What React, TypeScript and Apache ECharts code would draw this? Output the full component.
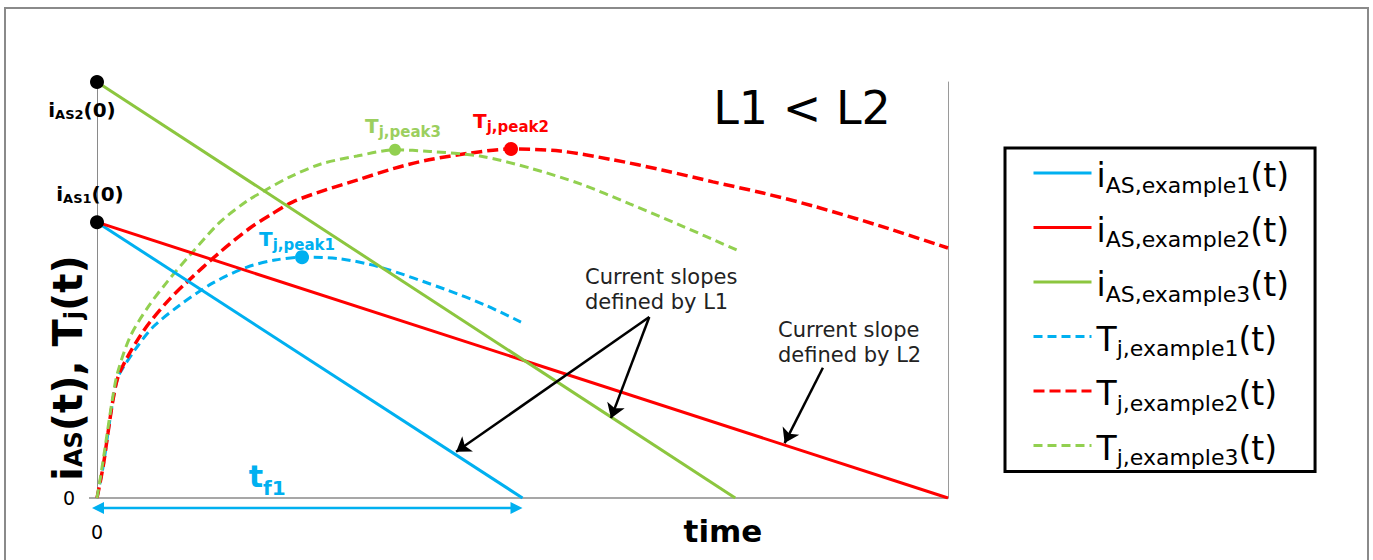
import React, { useEffect, useRef } from 'react';
import * as echarts from 'echarts';

const FONT = 'DejaVu Sans';
const BLUE = '#00b0f0';
const RED = '#ff0000';
const GREEN = '#8cc63f';
const GREEN_DASH = '#92d050';
const GREEN_TEXT = '#9ccf5f';

// axis ranges (arbitrary units)
const X_MAX = 100;
const Y_MAX = 100;
const AXIS_TICKS = [0];

// initial currents and fall times
const IAS1_0 = 66.3;
const IAS2_0 = 100;
const TF1 = 50;
const TF2 = 100;
const TF3 = 75;

const IAS_EX1: [number, number][] = [[0, IAS1_0], [TF1, 0]];
const IAS_EX2: [number, number][] = [[0, IAS1_0], [TF2, 0]];
const IAS_EX3: [number, number][] = [[0, IAS2_0], [TF3, 0]];

const TJ_EX1: [number, number][] = [
  [0, 0], [0.71, 7.45], [1.29, 15.6], [1.88, 23.6], [2.47, 29.1], [3.06, 31.3],
  [4.7, 36.3], [6.58, 41.1], [9.75, 46.4], [13.63, 51.7], [17.63, 55.5],
  [20.92, 57.2], [24.09, 57.9], [28.55, 57.5], [33.25, 55.5], [41.13, 50.0],
  [45.59, 46.4], [49.82, 42.3],
];
const TJ_EX2: [number, number][] = [
  [0, 0], [0.71, 7.45], [1.29, 15.6], [1.88, 23.6], [2.47, 29.1], [3.53, 33.7],
  [5.05, 38.9], [6.23, 42.3], [8.34, 47.4], [10.46, 51.7], [14.45, 59.1],
  [17.98, 64.9], [20.33, 68.0], [23.03, 71.2], [26.79, 74.0], [30.55, 76.4],
  [35.02, 79.3], [39.01, 81.3], [43.83, 82.9], [48.65, 83.9], [54.41, 83.4],
  [60.63, 81.3], [66.51, 78.8], [72.39, 76.0], [78.26, 73.3], [84.14, 70.2],
  [92.01, 65.4], [100, 60.1],
];
const TJ_EX3: [number, number][] = [
  [0, 0], [0.6, 7.45], [1.2, 15.6], [1.8, 23.6], [2.4, 30.0], [3.88, 38.7],
  [5.99, 45.9], [8.34, 52.2], [10.93, 58.4], [14.45, 66.3], [17.63, 71.4],
  [19.62, 73.8], [22.68, 77.2], [26.32, 80.3], [30.55, 82.2], [35.02, 83.7],
  [39.13, 83.3], [45.0, 82.2], [50.9, 79.3], [56.8, 75.5], [62.6, 70.7],
  [68.5, 65.6], [75.2, 59.6],
];

const PEAK1: [number, number] = [24.09, 57.9];
const PEAK2: [number, number] = [48.65, 83.9];
const PEAK3: [number, number] = [35.02, 83.7];

const LEGEND_NAMES = [
  'iAS,example1(t)', 'iAS,example2(t)', 'iAS,example3(t)',
  'Tj,example1(t)', 'Tj,example2(t)', 'Tj,example3(t)',
];

// annotation arrows (start -> end, in data units)
const ARROWS: [number, number][][] = [
  [[64.9, 43.5], [42.2, 11.1]],
  [[64.9, 43.5], [60.4, 19.2]],
  [[85.3, 31.3], [80.8, 13.2]],
];

const subRich = (main: number, sub: number, shift: number, bold: boolean, color: string) => {
  const w = bold ? 'bold' : 'normal';
  const lm = main + 2;
  const ls = sub + 2;
  const pad = lm / 2 + shift - ls / 2;
  return {
    m: { fontSize: main, fontWeight: w, lineHeight: lm, verticalAlign: 'top', color, fill: color, fontFamily: FONT },
    s: { fontSize: sub, fontWeight: w, lineHeight: ls, verticalAlign: 'top', padding: [pad, 0, 0, 0], color, fill: color, fontFamily: FONT },
  };
};

export default function App() {
  const ref = useRef<HTMLDivElement>(null);

  useEffect(() => {
    if (!ref.current) return;
    const chart = echarts.init(ref.current, null, { renderer: 'svg' });

    const dashed = (name: string, data: [number, number][], color: string, width: number, dash: number[]) => ({
      name,
      type: 'line',
      data,
      smooth: 0.3,
      symbol: 'none',
      z: 2,
      lineStyle: { color, width, type: dash },
      itemStyle: { color },
    });

    const option: any = {
      animation: false,
      textStyle: { fontFamily: FONT },
      grid: { left: 97, top: 82, width: 851, height: 416 },
      xAxis: {
        type: 'value', min: 0, max: X_MAX, interval: X_MAX,
        axisLine: { show: true, lineStyle: { color: '#8a8a8a', width: 1.5 } },
        axisTick: { show: false }, splitLine: { show: false },
        axisLabel: {
          formatter: (v: number) => (AXIS_TICKS.includes(v) ? String(v) : ''),
          fontSize: 19, color: '#000', fontFamily: FONT, margin: 24,
        },
      },
      yAxis: [
        {
          type: 'value', min: 0, max: Y_MAX, interval: Y_MAX, position: 'left',
          axisLine: { show: true, lineStyle: { color: '#8a8a8a', width: 1 } },
          axisTick: { show: false }, splitLine: { show: false },
          axisLabel: {
            formatter: (v: number) => (AXIS_TICKS.includes(v) ? String(v) : ''),
            fontSize: 19, color: '#000', fontFamily: FONT, margin: 22,
          },
        },
        {
          type: 'value', min: 0, max: Y_MAX, interval: Y_MAX, position: 'right',
          axisLine: { show: true, lineStyle: { color: '#9a9a9a', width: 1 } },
          axisTick: { show: false }, splitLine: { show: false }, axisLabel: { show: false },
        },
      ],
      legend: {
        data: LEGEND_NAMES,
        orient: 'vertical',
        left: 1005,
        top: 148,
        padding: [8, 26, 3, 27],
        itemWidth: 58,
        itemHeight: 14,
        itemGap: 14.5,
        borderColor: '#000',
        borderWidth: 3,
        selectedMode: false,
        itemStyle: { opacity: 0 },
        lineStyle: { width: 3 },
        textStyle: {
          color: '#000',
          fontFamily: FONT,
          rich: {
            m: { fontSize: 33, lineHeight: 34, verticalAlign: 'top', padding: [3, 0, 0, 0], color: '#000', fontFamily: FONT },
            s: { fontSize: 22, lineHeight: 24, verticalAlign: 'top', padding: [18, 0, 0, 0], color: '#000', fontFamily: FONT },
          },
        },
        formatter: (name: string) => {
          const head = name.charAt(0);
          const sub = name.slice(1, name.length - 3);
          return `{m|${head}}{s|${sub}}{m|(t)}`;
        },
      },
      series: [
        {
          name: LEGEND_NAMES[0], type: 'line', data: IAS_EX1, symbol: 'none', z: 3,
          lineStyle: { color: BLUE, width: 3 }, itemStyle: { color: BLUE },
        },
        {
          name: LEGEND_NAMES[1], type: 'line', data: IAS_EX2, symbol: 'none', z: 3,
          lineStyle: { color: RED, width: 3 }, itemStyle: { color: RED },
          markLine: {
            silent: true,
            symbol: ['none', 'arrow'],
            symbolSize: 14,
            label: { show: false },
            lineStyle: { color: '#000', width: 2.5, type: 'solid' },
            emphasis: { disabled: true },
            data: ARROWS.map(([a, b]) => [{ coord: a }, { coord: b }]),
          },
        },
        {
          name: LEGEND_NAMES[2], type: 'line', data: IAS_EX3, symbol: 'none', z: 3,
          lineStyle: { color: GREEN, width: 3 }, itemStyle: { color: GREEN },
        },
        dashed(LEGEND_NAMES[3], TJ_EX1, BLUE, 3, [9, 5]),
        dashed(LEGEND_NAMES[4], TJ_EX2, RED, 3.5, [11, 5]),
        dashed(LEGEND_NAMES[5], TJ_EX3, GREEN_DASH, 3, [9, 5]),
        {
          name: 'initial', type: 'scatter', z: 5, symbolSize: 14,
          itemStyle: { color: '#000', opacity: 1 },
          label: { show: true, position: 'inside', rich: subRich(20, 13, 4, true, '#000') },
          data: [
            { value: [0, IAS2_0], label: { formatter: '{m|i}{s|AS2}{m|(0)}', offset: [-15, 29] } },
            { value: [0, IAS1_0], label: { formatter: '{m|i}{s|AS1}{m|(0)}', offset: [-7, -27] } },
          ],
        },
        {
          name: 'peaks', type: 'scatter', z: 5,
          label: { show: true, position: 'inside' },
          data: [
            {
              value: PEAK1, symbolSize: 14, itemStyle: { color: BLUE, opacity: 1 },
              label: { formatter: '{m|T}{s|j,peak1}', offset: [-5, -17], rich: subRich(20, 15, 6, true, BLUE) },
            },
            {
              value: PEAK2, symbolSize: 14, itemStyle: { color: RED, opacity: 1 },
              label: { formatter: '{m|T}{s|j,peak2}', offset: [0, -27], rich: subRich(20, 15, 6, true, RED) },
            },
            {
              value: PEAK3, symbolSize: 12, itemStyle: { color: GREEN_DASH, opacity: 1 },
              label: { formatter: '{m|T}{s|j,peak3}', offset: [8, -23], rich: subRich(20, 15, 6, true, GREEN_TEXT) },
            },
          ],
        },
      ],
    };

    chart.setOption(option);

    const z0 = chart.convertToPixel({ seriesIndex: 0 }, [0, 0]) as number[];
    const zf = chart.convertToPixel({ seriesIndex: 0 }, [TF1, 0]) as number[];
    const ay = z0[1] + 10;
    const lx = z0[0] - 5;
    const rx = zf[0];

    chart.setOption({
      graphic: [
        {
          type: 'rect', z: -10, silent: true,
          shape: { x: 5, y: 8, width: 1363, height: 600 },
          style: { fill: 'none', stroke: '#8a8a8a', lineWidth: 2 },
        },
        {
          type: 'line', silent: true,
          shape: { x1: z0[0] - 8, y1: z0[1], x2: z0[0], y2: z0[1] },
          style: { stroke: '#8a8a8a', lineWidth: 1.5 },
        },
        {
          type: 'text', x: 69, y: 368, rotation: Math.PI / 2, silent: true,
          style: {
            text: '{m|i}{s|AS}{m|(t), T}{s|j}{m|(t)}',
            rich: subRich(40, 24, 5.5, true, '#000'),
            align: 'center', verticalAlign: 'middle',
          },
        },
        {
          type: 'text', x: 802, y: 108, silent: true,
          style: { text: 'L1 < L2', fontSize: 46, fontFamily: FONT, fill: '#000', align: 'center', verticalAlign: 'middle' },
        },
        {
          type: 'text', x: 723, y: 531, silent: true,
          style: { text: 'time', fontSize: 31, fontWeight: 'bold', fontFamily: FONT, fill: '#000', align: 'center', verticalAlign: 'middle' },
        },
        {
          type: 'text', x: 585, y: 264, silent: true,
          style: { text: 'Current slopes\ndefined by L1', fontSize: 21, lineHeight: 25, fontFamily: FONT, fill: '#222', align: 'left', verticalAlign: 'top' },
        },
        {
          type: 'text', x: 778, y: 317, silent: true,
          style: { text: 'Current slope\ndefined by L2', fontSize: 21, lineHeight: 25, fontFamily: FONT, fill: '#222', align: 'left', verticalAlign: 'top' },
        },
        {
          type: 'line', silent: true,
          shape: { x1: lx + 8, y1: ay, x2: rx - 8, y2: ay },
          style: { stroke: BLUE, lineWidth: 2.5 },
        },
        {
          type: 'polygon', silent: true,
          shape: { points: [[lx, ay], [lx + 12, ay - 6], [lx + 12, ay + 6]] },
          style: { fill: BLUE },
        },
        {
          type: 'polygon', silent: true,
          shape: { points: [[rx, ay], [rx - 12, ay - 6], [rx - 12, ay + 6]] },
          style: { fill: BLUE },
        },
        {
          type: 'text', x: z0[0] + 0.4 * (zf[0] - z0[0]), y: z0[1] - 21, silent: true,
          style: {
            text: '{m|t}{s|f1}',
            rich: subRich(30, 20, 11.5, true, BLUE),
            align: 'center', verticalAlign: 'middle',
          },
        },
      ],
    });

    return () => chart.dispose();
  }, []);

  return (
    <div
      ref={ref}
      style={{ position: 'absolute', left: 0, top: 0, width: 1373, height: 560, background: '#fff' }}
    />
  );
}
